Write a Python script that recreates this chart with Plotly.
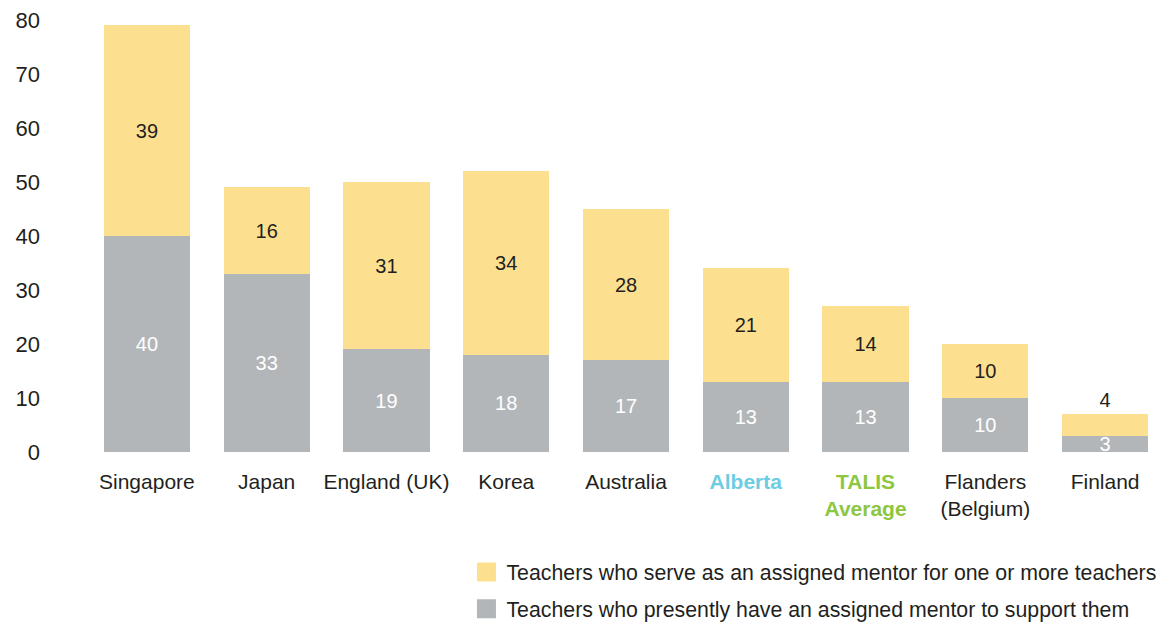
import plotly.graph_objects as go

categories = ["Singapore", "Japan", "England (UK)", "Korea", "Australia",
              "Alberta", "TALIS Average", "Flanders (Belgium)", "Finland"]
tick_labels = [
    "Singapore", "Japan", "England (UK)", "Korea", "Australia",
    "<span style='color:#6CCDE2'><b>Alberta</b></span>",
    "<span style='color:#8DC63F'><b>TALIS<br>Average</b></span>",
    "Flanders<br>(Belgium)", "Finland",
]
have_mentor = [40, 33, 19, 18, 17, 13, 13, 10, 3]
serve_as_mentor = [39, 16, 31, 34, 28, 21, 14, 10, 4]

NAME_HAVE = "Teachers who presently have an assigned mentor to support them"
NAME_SERVE = "Teachers who serve as an assigned mentor for one or more teachers"

GRAY = "#B3B6B9"
YELLOW = "#FDE08F"
INK = "#231F20"
FONT = "Liberation Sans, Arial, Helvetica, sans-serif"

fig = go.Figure()
fig.add_trace(go.Bar(
    x=categories, y=have_mentor, name=NAME_HAVE, showlegend=False,
    marker=dict(color=GRAY, line=dict(width=0)),
    text=[str(v) for v in have_mentor], textposition="inside", insidetextanchor="middle",
    textangle=0, textfont=dict(color="white", size=20, family=FONT), width=0.72,
))
fig.add_trace(go.Bar(
    x=categories, y=serve_as_mentor, name=NAME_SERVE, showlegend=False,
    marker=dict(color=YELLOW, line=dict(width=0)),
    text=[str(v) for v in serve_as_mentor],
    textposition=["inside"] * 8 + ["outside"], insidetextanchor="middle",
    textangle=0, textfont=dict(color=INK, size=20, family=FONT), width=0.72,
))

# Legend entries with larger square swatches
for name, color in [(NAME_SERVE, YELLOW), (NAME_HAVE, GRAY)]:
    fig.add_trace(go.Scatter(
        x=[None], y=[None], mode="markers", name=name, legendgroup=name,
        marker=dict(symbol="square", size=16, color=color,
                    line=dict(width=3, color=color)),
    ))

fig.update_layout(
    width=1165, height=622,
    margin=dict(l=87, r=0, t=9, b=170, autoexpand=False),
    barmode="stack",
    plot_bgcolor="white", paper_bgcolor="white",
    font=dict(family=FONT, color=INK, size=21),
    uniformtext=dict(minsize=20, mode="show"),
    legend=dict(
        x=0.352, y=-0.225, xanchor="left", yanchor="top",
        traceorder="grouped", font=dict(size=21.3, color=INK),
        itemsizing="trace", tracegroupgap=6, bgcolor="rgba(0,0,0,0)",
    ),
    showlegend=True,
)
fig.update_traces(cliponaxis=False, selector=dict(type="bar"))
fig.update_traces(constraintext="none", selector=dict(type="bar"))
fig.update_xaxes(
    tickvals=categories, ticktext=tick_labels, showgrid=False, showline=False,
    ticks="", tickfont=dict(size=21), range=[-0.5, 8.5], ticklabelstandoff=15,
)
fig.update_yaxes(
    range=[0, 82], tickvals=[0, 10, 20, 30, 40, 50, 60, 70, 80],
    showgrid=False, zeroline=False, showline=False, ticks="",
    tickfont=dict(size=22), ticklabelstandoff=46,
)

fig.write_html("out.html")
